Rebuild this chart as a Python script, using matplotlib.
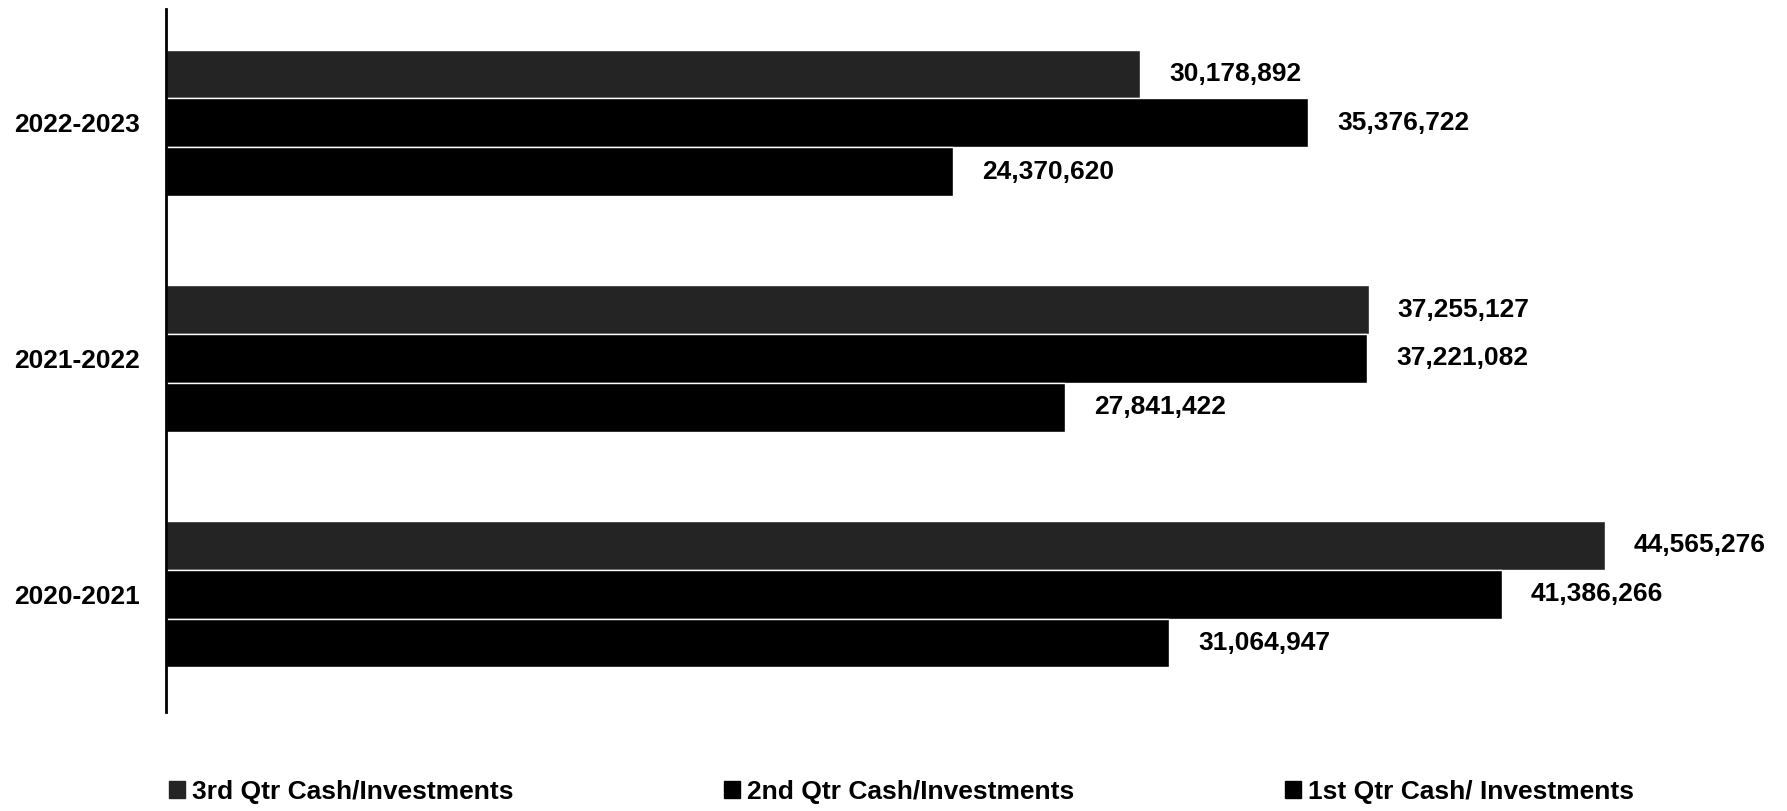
import numpy as np
from matplotlib import pyplot as plt
from matplotlib.patches import Patch

years = ['2020-2021', '2021-2022', '2022-2023']
q3 = [44565276, 37255127, 30178892]
q2 = [41386266, 37221082, 35376722]
q1 = [31064947, 27841422, 24370620]
series_names = ['3rd Qtr Cash/Investments', '2nd Qtr Cash/Investments', '1st Qtr Cash/ Investments']

plt.rcParams['font.family'] = ['Liberation Sans', 'DejaVu Sans']
plt.rcParams['font.weight'] = 'bold'

fig = plt.figure(figsize=(17.87, 8.11), dpi=100)
ax = fig.add_axes([0.0929, 0.122, 0.897, 0.867])

y = np.arange(len(years))
h = 0.207
colors = ['#242424', '#000000', '#000000']
for vals, off, c in zip([q3, q2, q1], [h, 0, -h], colors):
	bars = ax.barh(y + off, vals, height=h, color=c, edgecolor='white', linewidth=1.0)
	ax.bar_label(bars, labels=['{:,}'.format(v) for v in vals], padding=21,
		fontsize=19, fontweight='bold')

ax.set_xlim(0, 49.66e6)
ax.set_ylim(-0.5, 2.483)
ax.set_yticks(y)
ax.set_yticklabels(years, fontsize=19, fontweight='bold')
ax.tick_params(axis='y', length=0, pad=19)
ax.set_xticks([])
for s in ['top', 'right', 'bottom']:
	ax.spines[s].set_visible(False)
ax.spines['left'].set_linewidth(2)

handles = [Patch(facecolor=c, edgecolor=c) for c in colors]
fig.legend(handles, series_names, loc='center', bbox_to_anchor=(0.5045, 0.0234), ncol=3,
	frameon=False, handlelength=0.6, handleheight=0.6,
	handletextpad=0.25, columnspacing=8.0, prop={'weight': 'bold', 'size': 19})

fig.savefig('out.png', dpi=100)
